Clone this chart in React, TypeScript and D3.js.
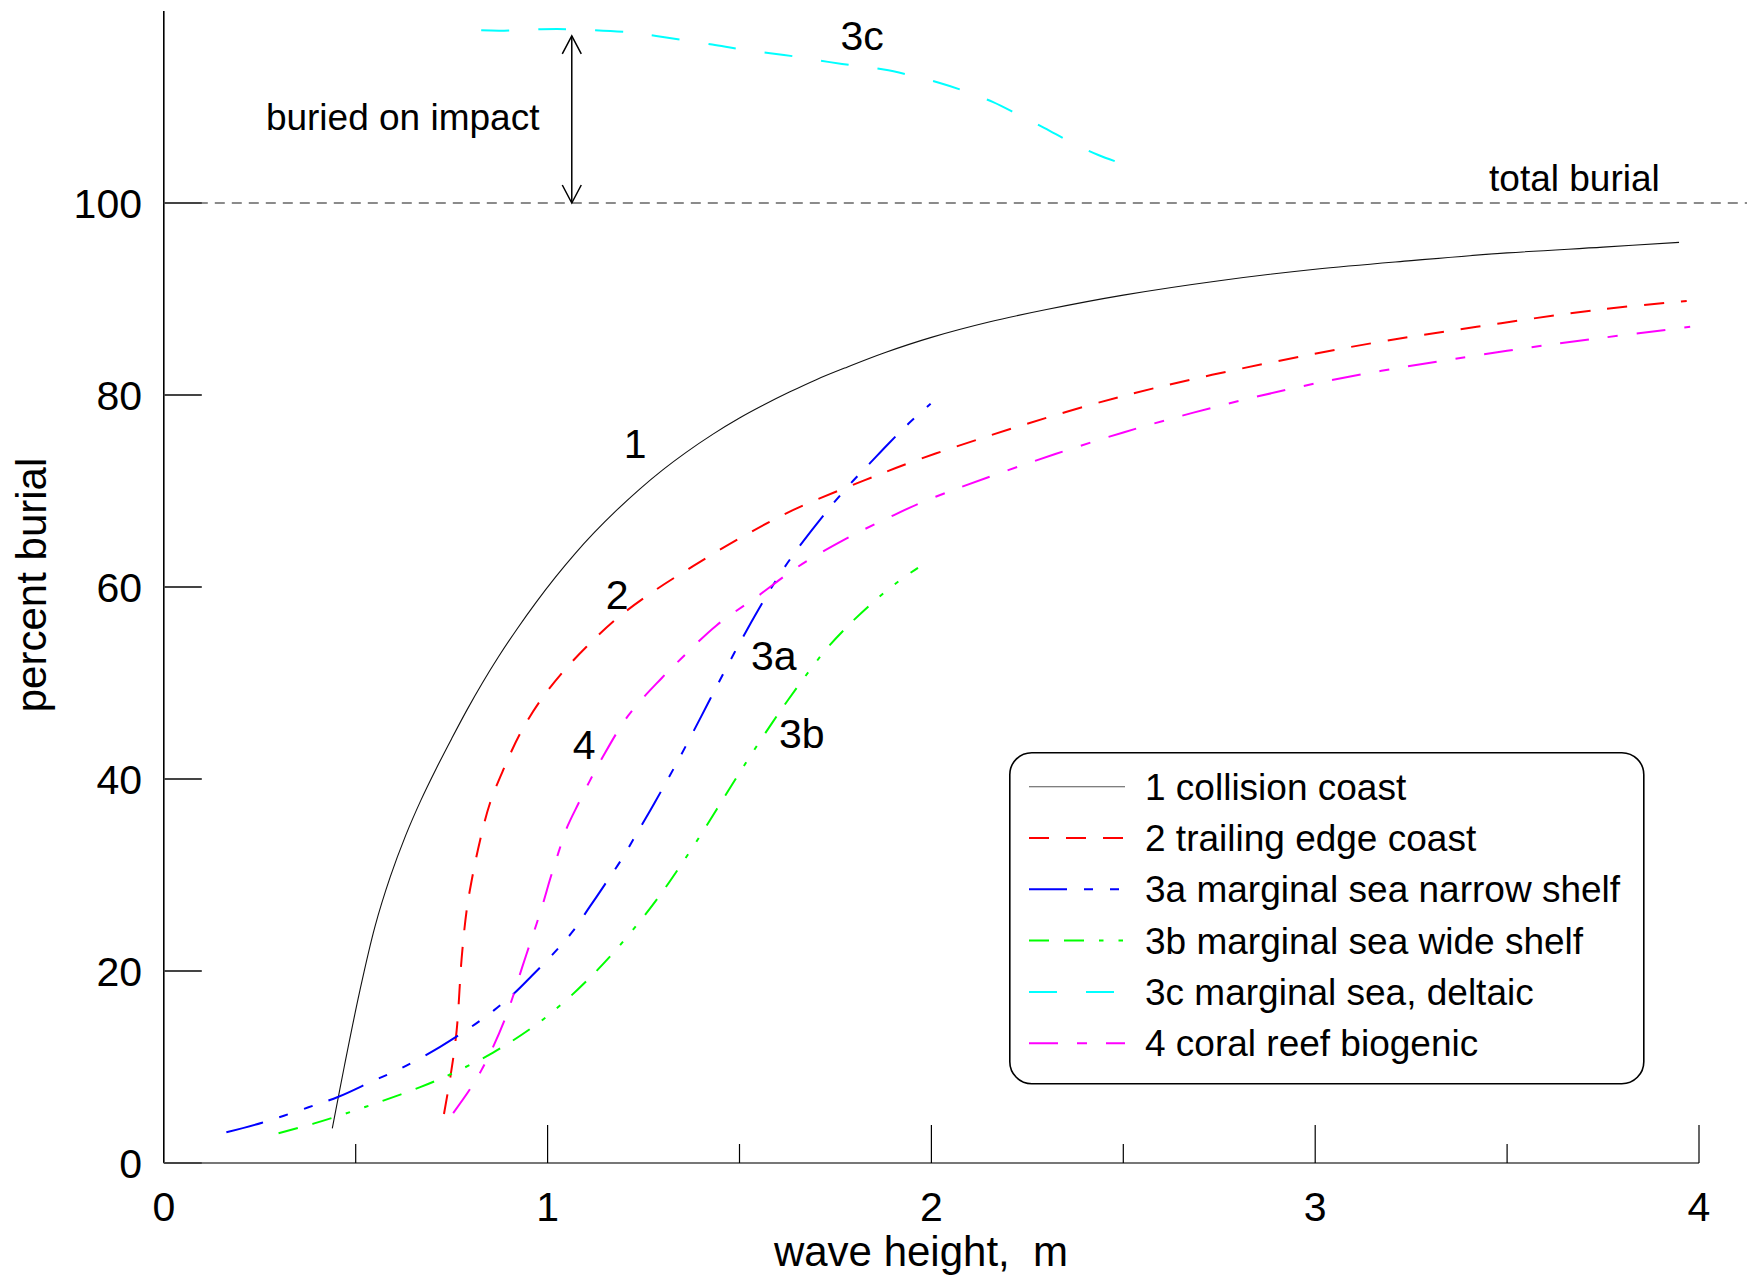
import React from "react";
import * as d3 from "d3";

// ---------- data ----------
const s1X = [0.439, 0.47, 0.51, 0.55, 0.59, 0.63, 0.67, 0.71, 0.75, 0.79, 0.83, 0.87, 0.92, 0.97, 1.02, 1.07, 1.12, 1.18, 1.24, 1.3, 1.36, 1.43, 1.5, 1.56, 1.63, 1.7, 1.78, 1.878, 2.0, 2.15, 2.3, 2.5, 2.75, 3.0, 3.25, 3.5, 3.75, 3.948];
const s1Y = [3.6, 10.0, 17.8, 24.6, 29.8, 34.1, 37.8, 41.1, 44.2, 47.2, 50.0, 52.6, 55.6, 58.4, 61.0, 63.4, 65.6, 68.0, 70.2, 72.2, 74.0, 75.9, 77.6, 78.9, 80.3, 81.6, 82.9, 84.4, 86.0, 87.6, 88.9, 90.4, 91.9, 93.1, 94.0, 94.8, 95.4, 95.9];

const s2X = [0.73, 0.748, 0.763, 0.776, 0.789, 0.802, 0.824, 0.85, 0.885, 0.928, 0.98, 1.041, 1.102, 1.18, 1.267, 1.38, 1.506, 1.639, 1.825, 2.011, 2.5, 3.065, 3.421, 3.742, 3.968];
const s2Y = [5.1, 9.3, 13.8, 21.3, 26.3, 29.4, 33.6, 37.5, 41.0, 44.7, 48.1, 51.2, 53.8, 56.7, 59.3, 62.2, 65.2, 68.0, 71.1, 73.9, 79.9, 84.8, 87.1, 88.9, 89.8];

const s3aX = [0.163, 0.256, 0.377, 0.455, 0.537, 0.62, 0.72, 0.798, 0.86, 0.911, 0.959, 1.024, 1.067, 1.11, 1.149, 1.197, 1.232, 1.267, 1.301, 1.345, 1.4, 1.44, 1.486, 1.519, 1.559, 1.6, 1.639, 1.69, 1.74, 1.79, 1.84, 1.89, 1.94, 1.998];
const s3aY = [3.2, 4.2, 5.8, 6.9, 8.4, 9.9, 12.1, 14.1, 15.9, 17.6, 19.5, 22.2, 24.2, 26.7, 29.0, 31.9, 34.3, 36.7, 39.1, 42.3, 46.5, 49.6, 53.1, 55.5, 58.3, 61.0, 63.3, 66.0, 68.5, 70.8, 72.9, 75.0, 77.0, 79.1];

const s3bX = [0.299, 0.39, 0.485, 0.572, 0.668, 0.75, 0.858, 0.963, 1.041, 1.11, 1.167, 1.241, 1.293, 1.345, 1.393, 1.44, 1.493, 1.533, 1.586, 1.626, 1.679, 1.732, 1.799, 1.865, 1.918, 1.965];
const s3bY = [3.1, 4.1, 5.3, 6.5, 7.9, 9.3, 11.5, 14.2, 16.7, 19.3, 21.7, 25.2, 27.9, 30.9, 33.8, 36.8, 40.2, 42.7, 45.9, 48.2, 51.1, 53.8, 56.6, 59.0, 60.7, 62.0];

const s3cX = [0.827, 0.876, 0.983, 1.058, 1.207, 1.283, 1.429, 1.504, 1.58, 1.655, 1.731, 1.801, 1.876, 1.946, 2.022, 2.091, 2.161, 2.231, 2.295, 2.365, 2.435, 2.503];
const s3cY = [118.0, 117.95, 118.1, 118.1, 117.8, 117.4, 116.5, 116.0, 115.6, 115.2, 114.7, 114.3, 113.9, 113.3, 112.5, 111.6, 110.5, 109.1, 107.8, 106.3, 105.0, 104.0];

const s4X = [0.754, 0.798, 0.828, 0.858, 0.888, 0.911, 0.933, 0.952, 0.972, 0.99, 1.006, 1.028, 1.05, 1.081, 1.106, 1.141, 1.21, 1.297, 1.347, 1.44, 1.546, 1.652, 1.772, 1.892, 2.011, 2.5, 3.0, 3.5, 3.698, 3.977];
const s4Y = [5.2, 7.7, 9.7, 12.1, 14.9, 17.5, 20.3, 22.6, 25.0, 27.3, 29.5, 32.3, 34.9, 37.5, 39.5, 42.1, 46.6, 50.5, 52.5, 56.0, 59.0, 62.1, 64.9, 67.3, 69.4, 76.1, 81.2, 84.6, 85.7, 87.1];

const seriesNames = [
  "1 collision coast",
  "2 trailing edge coast",
  "3a marginal sea narrow shelf",
  "3b marginal sea wide shelf",
  "3c marginal sea, deltaic",
  "4 coral reef biogenic",
];
const seriesXs = [s1X, s2X, s3aX, s3bX, s3cX, s4X];
const seriesYs = [s1Y, s2Y, s3aY, s3bY, s3cY, s4Y];

const xTicksMajor = [0, 1, 2, 3, 4];
const xTicksMinor = [0.5, 1.5, 2.5, 3.5];
const yTicks = [0, 20, 40, 60, 80, 100];

const totalBurialLevel = 100;
const arrowX = 1.063;
const arrowTop = 117.4;

// ---------- styles ----------
const colors = ["#111111", "#ff0000", "#0000ff", "#00ff00", "#00ffff", "#ff00ff"];
const dashes = ["", "20 17", "38 17 9 17 9 17", "20 15 20 15 4.5 15 4.5 15", "28 29", "29 19 10 19"];
const widths = [1.1, 2, 2, 2, 2, 2];

const FONT = "'Liberation Sans', Arial, Helvetica, sans-serif";

const curveLabels = [
  { t: "1", x: 1.228, y: 73.4, a: "middle" },
  { t: "2", x: 1.181, y: 57.7, a: "middle" },
  { t: "3a", x: 1.53, y: 51.35, a: "start" },
  { t: "3b", x: 1.603, y: 43.2, a: "start" },
  { t: "4", x: 1.095, y: 42.1, a: "middle" },
  { t: "3c", x: 1.763, y: 115.9, a: "start" },
];

export default function App() {
  const W = 1747;
  const H = 1277;
  const x = d3.scaleLinear().domain([0, 4]).range([163.8, 1699]);
  const y = d3.scaleLinear().domain([0, 120]).range([1163, 11]);

  const line = d3
    .line<[number, number]>()
    .x((d) => x(d[0]))
    .y((d) => y(d[1]))
    .curve(d3.curveCatmullRom.alpha(0.5));

  const legendX = 1009.8;
  const legendY = 752.7;
  const rowY0 = 786.7;
  const rowStep = 51.3;

  const ax = x(arrowX);
  const aTop = y(arrowTop);
  const aBot = y(totalBurialLevel);

  return (
    <svg
      width={W}
      height={H}
      style={{ position: "absolute", left: 0, top: 0, background: "#fff" }}
      fontFamily={FONT}
    >
      <rect x={0} y={0} width={W} height={H} fill="#fff" />

      {/* total burial dashed line */}
      <line
        x1={x(0)}
        x2={W}
        y1={y(totalBurialLevel)}
        y2={y(totalBurialLevel)}
        stroke="#666"
        strokeWidth={1.6}
        strokeDasharray="10 7"
      />

      {/* axes */}
      <line x1={x(0)} x2={x(0)} y1={y(120)} y2={y(0)} stroke="#000" strokeWidth={1.6} />
      <line x1={x(0)} x2={x(4)} y1={y(0)} y2={y(0)} stroke="#777" strokeWidth={2} />
      {yTicks.map((t) => (
        <g key={"yt" + t}>
          <line x1={x(0)} x2={x(0) + 38} y1={y(t)} y2={y(t)} stroke="#444" strokeWidth={2} />
          <text x={142} y={y(t) + 15} textAnchor="end" fontSize={41} fill="#000">
            {t}
          </text>
        </g>
      ))}
      {xTicksMajor.map((t) => (
        <g key={"xt" + t}>
          {t > 0 && (
            <line x1={x(t)} x2={x(t)} y1={y(0)} y2={y(0) - 38} stroke="#000" strokeWidth={1.2} />
          )}
          <text x={x(t)} y={1221} textAnchor="middle" fontSize={41} fill="#000">
            {t}
          </text>
        </g>
      ))}
      {xTicksMinor.map((t) => (
        <line key={"xm" + t} x1={x(t)} x2={x(t)} y1={y(0)} y2={y(0) - 19} stroke="#000" strokeWidth={1.2} />
      ))}

      <text
        x={921}
        y={1266}
        textAnchor="middle"
        fontSize={42}
        style={{ whiteSpace: "pre" }}
        fill="#000"
      >
        {"wave height,  m"}
      </text>
      <text
        transform={`translate(46,585) rotate(-90)`}
        textAnchor="middle"
        fontSize={42}
        fill="#000"
      >
        percent burial
      </text>

      {/* series */}
      {seriesXs.map((xs, i) => {
        const pts: [number, number][] = xs.map((v, j) => [v, seriesYs[i][j]]);
        return (
          <path
            key={"s" + i}
            d={line(pts) || ""}
            fill="none"
            stroke={colors[i]}
            strokeWidth={widths[i]}
            strokeDasharray={dashes[i] || undefined}
          />
        );
      })}

      {/* arrow */}
      <line x1={ax} x2={ax} y1={aTop} y2={aBot} stroke="#000" strokeWidth={1.5} />
      <polyline
        points={`${ax - 9.5},${aTop + 18} ${ax},${aTop} ${ax + 9.5},${aTop + 18}`}
        fill="none"
        stroke="#000"
        strokeWidth={1.5}
      />
      <polyline
        points={`${ax - 9.5},${aBot - 18} ${ax},${aBot} ${ax + 9.5},${aBot - 18}`}
        fill="none"
        stroke="#000"
        strokeWidth={1.5}
      />
      <text x={x(0.266)} y={y(107.6)} fontSize={37} fill="#000">
        buried on impact
      </text>
      <text x={x(3.453)} y={y(101.2)} fontSize={37} fill="#000">
        total burial
      </text>

      {curveLabels.map((l) => (
        <text
          key={"cl" + l.t}
          x={x(l.x)}
          y={y(l.y)}
          textAnchor={l.a as any}
          fontSize={41}
          fill="#000"
        >
          {l.t}
        </text>
      ))}

      {/* legend */}
      <rect
        x={legendX}
        y={legendY}
        width={634}
        height={331}
        rx={22}
        ry={22}
        fill="#fff"
        stroke="#000"
        strokeWidth={1.6}
      />
      {seriesNames.map((n, i) => {
        const ry = rowY0 + i * rowStep;
        return (
          <g key={"lg" + i}>
            <line
              x1={1029}
              x2={1125}
              y1={ry}
              y2={ry}
              stroke={i === 0 ? "#555" : colors[i]}
              strokeWidth={widths[i]}
              strokeDasharray={dashes[i] || undefined}
            />
            <text x={1145} y={ry + 13} fontSize={37} fill="#000">
              {n}
            </text>
          </g>
        );
      })}
    </svg>
  );
}
